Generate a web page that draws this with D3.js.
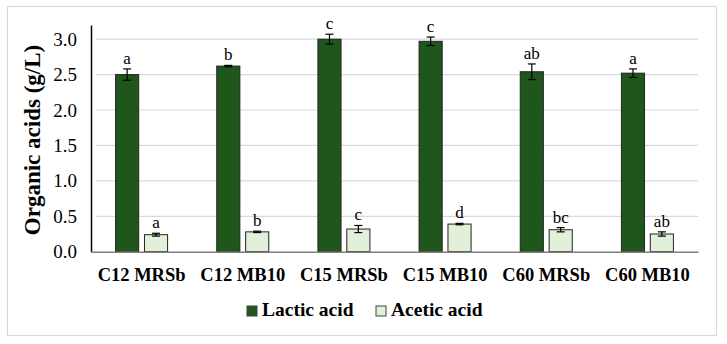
<!DOCTYPE html>
<html>
<head>
<meta charset="utf-8">
<script src="https://cdn.jsdelivr.net/npm/d3@7"></script>
<style>
  body { margin: 0; background: #fff; }
  svg { display: block; }
</style>
</head>
<body>
<div id="chart"></div>
<script>
// Chart data
const categories = ["C12 MRSb", "C12 MB10", "C15 MRSb", "C15 MB10", "C60 MRSb", "C60 MB10"]
const seriesNames = ["Lactic acid", "Acetic acid"]
const lacticValues = [2.50, 2.62, 3.00, 2.97, 2.54, 2.52]
const lacticErrors = [0.08, 0.01, 0.07, 0.06, 0.11, 0.06]
const lacticLetters = ["a", "b", "c", "c", "ab", "a"]
const aceticValues = [0.24, 0.28, 0.32, 0.39, 0.31, 0.25]
const aceticErrors = [0.02, 0.01, 0.05, 0.01, 0.03, 0.03]
const aceticLetters = ["a", "b", "c", "d", "bc", "ab"]
const yTicks = [0, 0.5, 1.0, 1.5, 2.0, 2.5, 3.0]

// Define chart parameters
const WIDTH = 727
const HEIGHT = 344
const PLOT = {LEFT:91, RIGHT:698, TOP:25, BOTTOM:251.7}
const COLOURS = ["#1f561c", "#e2f0d9"]
const SERIF = "'Liberation Serif', 'Times New Roman', serif"

// Build rows for drawing
const series = [
    {name:seriesNames[0], values:lacticValues, errors:lacticErrors, letters:lacticLetters},
    {name:seriesNames[1], values:aceticValues, errors:aceticErrors, letters:aceticLetters}
]
const rows = []
categories.forEach((c, i) => {
    series.forEach(s => {
        rows.push({cat:c, name:s.name, value:s.values[i], err:s.errors[i], letter:s.letters[i]})
    })
})

let svg = d3.select("#chart").append("svg")
    .attr("width", WIDTH)
    .attr("height", HEIGHT)

// Outer border
svg.append("rect")
    .attr("x", 7.5).attr("y", 6.5)
    .attr("width", 709).attr("height", 329)
    .attr("fill", "#fff")
    .attr("stroke", "#d9d9d9")
    .attr("stroke-width", 1.2)

// Scales
let x0 = d3.scaleBand()
    .domain(categories)
    .range([PLOT.LEFT, PLOT.RIGHT])

let bw = x0.bandwidth()
let x1 = d3.scaleBand()
    .domain(seriesNames)
    .range([bw/2 - 26, bw/2 + 26])
    .paddingInner(0.2)

let yScale = d3.scaleLinear()
    .domain([0, 3.2])
    .range([PLOT.BOTTOM, PLOT.TOP])

let colourScale = d3.scaleOrdinal()
    .domain(seriesNames)
    .range(COLOURS)

// Gridlines
svg.append("g")
    .selectAll("line")
    .data(yTicks.filter(d => d > 0))
    .join("line")
        .attr("x1", PLOT.LEFT + 5)
        .attr("x2", PLOT.RIGHT)
        .attr("y1", d => yScale(d))
        .attr("y2", d => yScale(d))
        .attr("stroke", "#d9d9d9")
        .attr("stroke-width", 1.2)

// Y axis
let yAxis = svg.append("g")
    .attr("transform", "translate(" + PLOT.LEFT + ",0)")
    .call(d3.axisLeft(yScale).tickValues(yTicks).tickFormat(d3.format(".1f")).tickSize(0).tickPadding(14))
yAxis.select(".domain").attr("stroke", "#000").attr("stroke-width", 1.5)
yAxis.selectAll("text")
    .attr("font-family", SERIF)
    .attr("font-size", 19)
    .attr("fill", "#000")

// Bars
let groups = svg.append("g")
    .selectAll("g")
    .data(rows)
    .join("g")
        .attr("transform", d => "translate(" + (x0(d.cat) + x1(d.name)) + ",0)")

groups.append("rect")
    .attr("x", 0)
    .attr("y", d => yScale(d.value))
    .attr("width", x1.bandwidth())
    .attr("height", d => yScale(0) - yScale(d.value))
    .attr("fill", d => colourScale(d.name))
    .attr("stroke", "#222")
    .attr("stroke-width", 1)

// Error bars
let cx = x1.bandwidth() / 2
groups.append("line")
    .attr("x1", cx).attr("x2", cx)
    .attr("y1", d => yScale(d.value + d.err))
    .attr("y2", d => yScale(d.value - d.err))
    .attr("stroke", "#000").attr("stroke-width", 1.2)
groups.append("line")
    .attr("x1", cx - 4).attr("x2", cx + 4)
    .attr("y1", d => yScale(d.value + d.err))
    .attr("y2", d => yScale(d.value + d.err))
    .attr("stroke", "#000").attr("stroke-width", 1.2)
groups.append("line")
    .attr("x1", cx - 4).attr("x2", cx + 4)
    .attr("y1", d => yScale(d.value - d.err))
    .attr("y2", d => yScale(d.value - d.err))
    .attr("stroke", "#000").attr("stroke-width", 1.2)

// Significance letters
groups.append("text")
    .attr("x", cx)
    .attr("y", d => yScale(d.value + d.err) - 5)
    .attr("text-anchor", "middle")
    .attr("font-family", SERIF)
    .attr("font-size", 17)
    .text(d => d.letter)

// X axis
let xAxis = svg.append("g")
    .attr("transform", "translate(0," + PLOT.BOTTOM + ")")
    .call(d3.axisBottom(x0).tickSize(0).tickPadding(16))
xAxis.select(".domain").attr("stroke", "#7f7f7f").attr("stroke-width", 1.5)
xAxis.selectAll("text")
    .attr("font-family", SERIF)
    .attr("font-size", 18.5)
    .attr("font-weight", "bold")
    .attr("fill", "#000")

// Y axis title
svg.append("text")
    .attr("transform", "translate(40,140) rotate(-90)")
    .attr("text-anchor", "middle")
    .attr("font-family", SERIF)
    .attr("font-size", 23)
    .attr("font-weight", "bold")
    .text("Organic acids (g/L)")

// Legend
let legendX = [247, 376]
let legend = svg.append("g")
    .selectAll("g")
    .data(seriesNames)
    .join("g")
        .attr("transform", (d, i) => "translate(" + legendX[i] + ",306)")
legend.append("rect")
    .attr("width", 10).attr("height", 10)
    .attr("fill", d => colourScale(d))
    .attr("stroke", "#444")
    .attr("stroke-width", 1)
legend.append("text")
    .attr("x", 15)
    .attr("y", 10)
    .attr("font-family", SERIF)
    .attr("font-size", 19.5)
    .attr("font-weight", "bold")
    .text(d => d)
</script>
</body>
</html>
